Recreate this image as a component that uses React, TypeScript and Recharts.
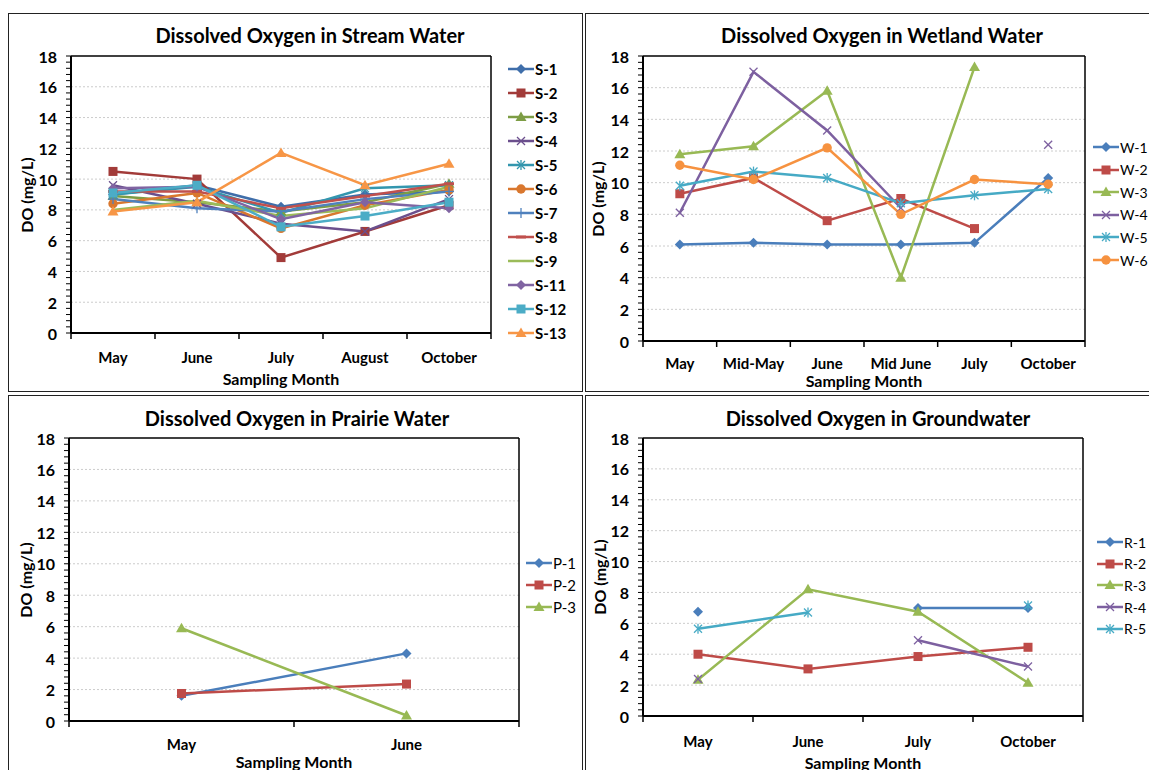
import { LineChart, Line, XAxis, YAxis, ReferenceLine } from "recharts";

type Shape = "diamond" | "square" | "triangle" | "x" | "star" | "circle" | "plus" | "dash" | "none";

interface Series {
  name: string;
  values: (number | null)[];
  color: string;
  shape: Shape;
}

// shared y axis
const doTicks = [0, 2, 4, 6, 8, 10, 12, 14, 16, 18];
const gridValues = doTicks.filter((v) => v > 0 && v < 18);
const minorTicks = doTicks
  .slice(0, -1)
  .flatMap((t) => [0, 0.4, 0.8, 1.2, 1.6].map((f) => Math.round((t + f) * 10) / 10))
  .concat(18);

// stream water
const streamMonths = ["May", "June", "July", "August", "October"];
const s1 = [9.0, 9.6, 8.2, 9.0, 9.2];
const s2 = [10.5, 10.0, 4.9, 6.6, 8.3];
const s3 = [8.9, 8.5, 7.9, 8.5, 9.7];
const s4 = [9.6, 8.4, 7.1, 6.6, 8.7];
const s5 = [9.0, 9.5, 7.8, 9.4, 9.6];
const s6 = [8.4, 9.1, 6.8, 8.3, 9.3];
const s7 = [8.7, 8.1, 7.9, 8.7, 9.2];
const s8 = [9.2, 9.2, 8.1, 8.9, 9.7];
const s9 = [8.0, 8.6, 7.6, 8.1, 9.5];
const s11 = [9.4, 9.5, 7.4, 8.5, 8.1];
const s12 = [9.1, 9.6, 6.9, 7.6, 8.5];
const s13 = [7.9, 8.5, 11.7, 9.6, 11.0];

// wetland water
const wetlandMonths = ["May", "Mid-May", "June", "Mid June", "July", "October"];
const w1 = [6.1, 6.2, 6.1, 6.1, 6.2, 10.3];
const w2 = [9.3, 10.3, 7.6, 9.0, 7.1, null];
const w3 = [11.8, 12.3, 15.8, 4.0, 17.3, null];
const w4 = [8.1, 17.0, 13.3, 8.4, null, 12.4];
const w5 = [9.8, 10.7, 10.3, 8.7, 9.2, 9.6];
const w6 = [11.1, 10.2, 12.2, 8.0, 10.2, 9.9];

// prairie water
const prairieMonths = ["May", "June"];
const p1 = [1.6, 4.3];
const p2 = [1.75, 2.35];
const p3 = [5.9, 0.35];

// groundwater
const groundMonths = ["May", "June", "July", "October"];
const r1 = [6.75, null, 7.0, 7.0];
const r2 = [4.0, 3.05, 3.85, 4.45];
const r3 = [2.35, 8.2, 6.75, 2.15];
const r4 = [2.4, null, 4.9, 3.2];
const r5 = [5.65, 6.7, null, 7.15];

const FONT = 'Lato, "Open Sans", sans-serif';

const streamSeries: Series[] = [
  { name: "S-1", values: s1, color: "#3F6EAA", shape: "diamond" },
  { name: "S-2", values: s2, color: "#A23B39", shape: "square" },
  { name: "S-3", values: s3, color: "#7D9D45", shape: "triangle" },
  { name: "S-4", values: s4, color: "#6B4F8D", shape: "x" },
  { name: "S-5", values: s5, color: "#3396AE", shape: "star" },
  { name: "S-6", values: s6, color: "#D9772E", shape: "circle" },
  { name: "S-7", values: s7, color: "#4F81BD", shape: "plus" },
  { name: "S-8", values: s8, color: "#C0504D", shape: "dash" },
  { name: "S-9", values: s9, color: "#9BBB59", shape: "none" },
  { name: "S-11", values: s11, color: "#8064A2", shape: "diamond" },
  { name: "S-12", values: s12, color: "#4BACC6", shape: "square" },
  { name: "S-13", values: s13, color: "#F79646", shape: "triangle" },
];

const wetlandSeries: Series[] = [
  { name: "W-1", values: w1, color: "#4A7EBB", shape: "diamond" },
  { name: "W-2", values: w2, color: "#BE4B48", shape: "square" },
  { name: "W-3", values: w3, color: "#98B954", shape: "triangle" },
  { name: "W-4", values: w4, color: "#7D60A0", shape: "x" },
  { name: "W-5", values: w5, color: "#46AAC5", shape: "star" },
  { name: "W-6", values: w6, color: "#F69240", shape: "circle" },
];

const prairieSeries: Series[] = [
  { name: "P-1", values: p1, color: "#4A7EBB", shape: "diamond" },
  { name: "P-2", values: p2, color: "#BE4B48", shape: "square" },
  { name: "P-3", values: p3, color: "#98B954", shape: "triangle" },
];

const groundSeries: Series[] = [
  { name: "R-1", values: r1, color: "#4A7EBB", shape: "diamond" },
  { name: "R-2", values: r2, color: "#BE4B48", shape: "square" },
  { name: "R-3", values: r3, color: "#98B954", shape: "triangle" },
  { name: "R-4", values: r4, color: "#7D60A0", shape: "x" },
  { name: "R-5", values: r5, color: "#46AAC5", shape: "star" },
];

function Marker({ shape, cx, cy, color }: { shape: Shape; cx: number; cy: number; color: string }) {
  switch (shape) {
    case "diamond":
      return <path d={`M${cx},${cy - 5}L${cx + 5},${cy}L${cx},${cy + 5}L${cx - 5},${cy}Z`} fill={color} />;
    case "square":
      return <rect x={cx - 4.5} y={cy - 4.5} width={9} height={9} fill={color} />;
    case "triangle":
      return <path d={`M${cx},${cy - 5.5}L${cx + 5.5},${cy + 4}L${cx - 5.5},${cy + 4}Z`} fill={color} />;
    case "x":
      return (
        <g stroke={color} strokeWidth={1.3}>
          <line x1={cx - 4} y1={cy - 4} x2={cx + 4} y2={cy + 4} />
          <line x1={cx - 4} y1={cy + 4} x2={cx + 4} y2={cy - 4} />
        </g>
      );
    case "star":
      return (
        <g stroke={color} strokeWidth={1.3}>
          <line x1={cx - 4} y1={cy - 4} x2={cx + 4} y2={cy + 4} />
          <line x1={cx - 4} y1={cy + 4} x2={cx + 4} y2={cy - 4} />
          <line x1={cx} y1={cy - 5} x2={cx} y2={cy + 5} />
        </g>
      );
    case "circle":
      return <circle cx={cx} cy={cy} r={4.7} fill={color} />;
    case "plus":
      return (
        <g stroke={color} strokeWidth={1.3}>
          <line x1={cx - 5} y1={cy} x2={cx + 5} y2={cy} />
          <line x1={cx} y1={cy - 5} x2={cx} y2={cy + 5} />
        </g>
      );
    case "dash":
      return <line x1={cx - 5} y1={cy} x2={cx + 5} y2={cy} stroke={color} strokeWidth={3} />;
    default:
      return <g />;
  }
}

function YTick(props: any) {
  const { x, y, payload } = props;
  const v = payload.value;
  if (Math.abs(v % 2) > 0.001) return <g />;
  return (
    <text x={x} y={y} textAnchor="end" dominantBaseline="central" fontFamily={FONT} fontWeight={700} fontSize={16} fill="#000">
      {v}
    </text>
  );
}

function XTick(props: any) {
  const { x, y, payload, off } = props;
  return (
    <text x={x} y={y + off} textAnchor="middle" dominantBaseline="central" fontFamily={FONT} fontWeight={700} fontSize={15} fill="#000">
      {payload.value}
    </text>
  );
}

interface PanelProps {
  title: string;
  titleX: number;
  titleY: number;
  box: { left: number; top: number; width: number; height: number };
  plot: { left: number; top: number; right: number; bottom: number };
  categories: string[];
  series: Series[];
  monthOff: number;
  xTitleY: number;
  yTitleX: number;
  legend: { x: number; y: number; step: number; bold: boolean; size: number };
}

function Panel(p: PanelProps) {
  const innerL = p.box.left + 1;
  const innerT = p.box.top + 1;
  const w = p.box.width - 2;
  const h = p.box.height - 2;
  const pl = p.plot.left - innerL;
  const pt = p.plot.top - innerT;
  const pr = p.plot.right - innerL;
  const pb = p.plot.bottom - innerT;
  const n = p.categories.length;
  const half = (pr - pl) / n / 2;
  const bounds = p.categories.map((_, i) => i).concat(n);
  const data = p.categories.map((c, i) => {
    const row: Record<string, any> = { month: c, idx: i };
    p.series.forEach((s) => (row[s.name] = s.values[i]));
    return row;
  });
  const plotCx = (p.plot.left + p.plot.right) / 2;
  const plotCy = (p.plot.top + p.plot.bottom) / 2;

  return (
    <div
      style={{
        position: "absolute",
        left: p.box.left,
        top: p.box.top,
        width: p.box.width,
        height: p.box.height,
        border: "1px solid #222",
        boxSizing: "border-box",
        background: "#fff",
        fontFamily: FONT,
      }}
    >
      <div
        style={{
          position: "absolute",
          left: p.titleX - innerL - 250,
          width: 500,
          top: p.titleY - innerT - 13,
          lineHeight: "26px",
          textAlign: "center",
          fontSize: 20,
          fontWeight: 700,
        }}
      >
        {p.title}
      </div>
      <div
        style={{
          position: "absolute",
          left: p.yTitleX - innerL - 100,
          top: plotCy - innerT - 10,
          width: 200,
          lineHeight: "20px",
          textAlign: "center",
          fontSize: 16,
          fontWeight: 700,
          transform: "rotate(-90deg)",
        }}
      >
        DO (mg/L)
      </div>
      <div
        style={{
          position: "absolute",
          left: plotCx - innerL - 150,
          top: p.xTitleY - innerT - 10,
          width: 300,
          lineHeight: "20px",
          textAlign: "center",
          fontSize: 16,
          fontWeight: 700,
        }}
      >
        Sampling Month
      </div>

      <LineChart
        width={w}
        height={h}
        data={data}
        margin={{ top: pt - 1, left: 0, right: w - pr - 1, bottom: h - pb - 2 }}
        style={{ position: "absolute", left: 0, top: 0 }}
      >
        <XAxis
          xAxisId="b"
          type="number"
          dataKey="idx"
          domain={[0, n]}
          ticks={bounds}
          interval={0}
          height={1}
          tickSize={6}
          tickLine={{ stroke: "#000", strokeWidth: 1.5 }}
          axisLine={{ stroke: "#000", strokeWidth: 2 }}
          tick={() => <g />}
          allowDataOverflow
        />
        <XAxis
          xAxisId="cat"
          dataKey="month"
          type="category"
          height={1}
          padding={{ left: half, right: half }}
          tickLine={false}
          axisLine={false}
          tickSize={0}
          tickMargin={0}
          interval={0}
          tick={<XTick off={p.monthOff} />}
        />
        <XAxis
          xAxisId="t"
          orientation="top"
          type="number"
          dataKey="idx"
          domain={[0, n]}
          height={1}
          tick={false}
          tickLine={false}
          axisLine={{ stroke: "#000", strokeWidth: 1.5 }}
          allowDataOverflow
        />
        <YAxis
          yAxisId="y"
          type="number"
          domain={[0, 18]}
          ticks={minorTicks}
          interval={0}
          width={pl}
          tickSize={5}
          tickMargin={9}
          tickLine={{ stroke: "#000" }}
          axisLine={{ stroke: "#000", strokeWidth: 2 }}
          tick={<YTick />}
        />
        <YAxis
          yAxisId="r"
          orientation="right"
          type="number"
          domain={[0, 18]}
          width={1}
          tick={false}
          tickLine={false}
          axisLine={{ stroke: "#000", strokeWidth: 1.5 }}
        />
        {gridValues.map((v) => (
          <ReferenceLine key={v} y={v} xAxisId="cat" yAxisId="y" stroke="#cccccc" strokeDasharray="2 2" />
        ))}
        {p.series.map((s) => (
          <Line
            key={s.name}
            xAxisId="cat"
            yAxisId="y"
            dataKey={s.name}
            stroke={s.color}
            strokeWidth={2.5}
            connectNulls={false}
            activeDot={false}
            isAnimationActive={false}
            dot={(d: any) =>
              d.cx == null || d.cy == null || d.value == null ? (
                <g key={`${s.name}-${d.index}`} />
              ) : (
                <Marker key={`${s.name}-${d.index}`} shape={s.shape} cx={d.cx} cy={d.cy} color={s.color} />
              )
            }
          />
        ))}
      </LineChart>

      {p.series.map((s, i) => (
        <div
          key={s.name}
          style={{
            position: "absolute",
            left: p.legend.x - innerL,
            top: p.legend.y + i * p.legend.step - innerT - 10,
            height: 20,
            display: "flex",
            alignItems: "center",
            fontSize: p.legend.size,
            fontWeight: p.legend.bold ? 700 : 400,
            whiteSpace: "nowrap",
          }}
        >
          <svg width={26} height={14} style={{ display: "block", marginRight: 1 }}>
            <line x1={0} y1={7} x2={26} y2={7} stroke={s.color} strokeWidth={2.5} />
            <Marker shape={s.shape} cx={13} cy={7} color={s.color} />
          </svg>
          <span>{s.name}</span>
        </div>
      ))}
    </div>
  );
}

export default function App() {
  return (
    <div style={{ position: "absolute", left: 0, top: 0, width: 1149, height: 770, overflow: "hidden", background: "#fff" }}>
      <Panel
        title="Dissolved Oxygen in Stream Water"
        titleX={310}
        titleY={35}
        box={{ left: 8, top: 13, width: 575, height: 379 }}
        plot={{ left: 71, top: 56, right: 491, bottom: 333 }}
        categories={streamMonths}
        series={streamSeries}
        monthOff={23}
        xTitleY={379}
        yTitleX={27}
        legend={{ x: 508, y: 69, step: 24, bold: true, size: 15 }}
      />
      <Panel
        title="Dissolved Oxygen in Wetland Water"
        titleX={882}
        titleY={35}
        box={{ left: 585, top: 13, width: 580, height: 379 }}
        plot={{ left: 643, top: 56, right: 1085, bottom: 341 }}
        categories={wetlandMonths}
        series={wetlandSeries}
        monthOff={21}
        xTitleY={381}
        yTitleX={598}
        legend={{ x: 1093, y: 147, step: 22.6, bold: false, size: 14 }}
      />
      <Panel
        title="Dissolved Oxygen in Prairie Water"
        titleX={297}
        titleY={418}
        box={{ left: 8, top: 395, width: 575, height: 380 }}
        plot={{ left: 69, top: 438, right: 519, bottom: 721 }}
        categories={prairieMonths}
        series={prairieSeries}
        monthOff={22}
        xTitleY={762}
        yTitleX={26}
        legend={{ x: 526, y: 563, step: 22, bold: false, size: 15 }}
      />
      <Panel
        title="Dissolved Oxygen in Groundwater"
        titleX={878}
        titleY={418}
        box={{ left: 585, top: 395, width: 580, height: 380 }}
        plot={{ left: 643, top: 438, right: 1083, bottom: 716 }}
        categories={groundMonths}
        series={groundSeries}
        monthOff={24}
        xTitleY={763}
        yTitleX={600}
        legend={{ x: 1097, y: 542, step: 21.7, bold: false, size: 14 }}
      />
    </div>
  );
}
